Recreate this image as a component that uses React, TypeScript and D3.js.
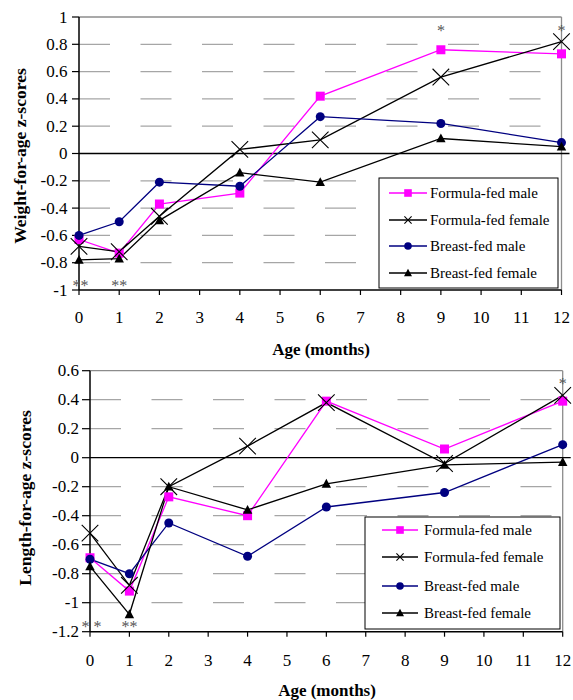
import React from "react";
import * as d3 from "d3";

const ages = [0, 1, 2, 4, 6, 9, 12];
const xTicks = [0, 1, 2, 3, 4, 5, 6, 7, 8, 9, 10, 11, 12];

const seriesNames = ["Formula-fed male", "Formula-fed female", "Breast-fed male", "Breast-fed female"];

// Weight-for-age z-scores
const wFormulaMale = [-0.63, -0.73, -0.37, -0.29, 0.42, 0.76, 0.73];
const wFormulaFemale = [-0.68, -0.72, -0.46, 0.03, 0.1, 0.56, 0.82];
const wBreastMale = [-0.6, -0.5, -0.21, -0.24, 0.27, 0.22, 0.08];
const wBreastFemale = [-0.78, -0.77, -0.49, -0.14, -0.21, 0.11, 0.05];
const wTicks = [-1, -0.8, -0.6, -0.4, -0.2, 0, 0.2, 0.4, 0.6, 0.8, 1];
const wTickLabels = ["-1", "-0.8", "-0.6", "-0.4", "-0.2", "0", "0.2", "0.4", "0.6", "0.8", "1"];
const wStars = [
  { age: 0, y: -0.95, text: "**" },
  { age: 1, y: -0.95, text: "**" },
  { age: 9, y: 0.92, text: "*" },
  { age: 12, y: 0.92, text: "*" },
];

// Length-for-age z-scores
const lFormulaMale = [-0.69, -0.92, -0.27, -0.4, 0.39, 0.06, 0.39];
const lFormulaFemale = [-0.52, -0.88, -0.2, 0.08, 0.38, -0.04, 0.43];
const lBreastMale = [-0.7, -0.8, -0.45, -0.68, -0.34, -0.24, 0.09];
const lBreastFemale = [-0.75, -1.08, -0.2, -0.36, -0.18, -0.05, -0.03];
const lTicks = [-1.2, -1, -0.8, -0.6, -0.4, -0.2, 0, 0.2, 0.4, 0.6];
const lTickLabels = ["-1.2", "-1", "-0.8", "-0.6", "-0.4", "-0.2", "0", "0.2", "0.4", "0.6"];
const lStars = [
  { age: 0, y: -1.15, text: "* *" },
  { age: 1, y: -1.15, text: "**" },
  { age: 12, y: 0.53, text: "*" },
];

const FONT = "Liberation Serif";
const colors = ["#ff00ff", "#000000", "#000080", "#000000"];
const markers = ["square", "x", "circle", "triangle"];

function Marker({ type, x, y, color, s, xk }: { type: string; x: number; y: number; color: string; s: number; xk: number }) {
  if (type === "square") return <rect x={x - s} y={y - s} width={2 * s} height={2 * s} fill={color} />;
  if (type === "circle") return <circle cx={x} cy={y} r={s} fill={color} />;
  if (type === "triangle")
    return <path d={`M${x},${y - s * 1.1} L${x + s * 1.05},${y + s * 0.85} L${x - s * 1.05},${y + s * 0.85} Z`} fill={color} />;
  const k = xk;
  return (
    <path d={`M${x - k},${y - k} L${x + k},${y + k} M${x - k},${y + k} L${x + k},${y - k}`} stroke={color} strokeWidth={1.1} fill="none" />
  );
}

type PanelProps = {
  x0: number; x1: number; yTop: number; yBot: number;
  domain: [number, number];
  ticks: number[]; tickLabels: string[];
  data: number[][];
  stars: { age: number; y: number; text: string }[];
  yTitle: string; yTitleX: number; yTitleY: number;
  tickLabelY: number; titleX: number; titleY: number; labelRight: number; tickLen: number;
  legend: { x0: number; y0: number; x1: number; y1: number; rows: number[]; lineX0: number; lineX1: number; textX: number };
};

function Panel(p: PanelProps) {
  const x = d3.scaleLinear().domain([0, 12]).range([p.x0, p.x1]);
  const y = d3.scaleLinear().domain(p.domain).range([p.yBot, p.yTop]);
  const line = d3.line<number>().x((_, i) => x(ages[i])).y((v) => y(v));
  const gridVals = p.ticks.filter((t) => t !== 0 && t !== p.domain[0] && t !== p.domain[1]);
  const L = p.legend;
  return (
    <g>
      <line x1={p.x0} x2={p.x1} y1={p.yTop} y2={p.yTop} stroke="#8c8c8c" strokeWidth={1.3} />
      <line x1={p.x1} x2={p.x1} y1={p.yTop} y2={p.yBot} stroke="#8c8c8c" strokeWidth={1.3} />
      {gridVals.map((t) => (
        <line key={t} x1={p.x0} x2={p.x1} y1={y(t)} y2={y(t)} stroke="#a6a6a6" strokeWidth={1.3} strokeDasharray="31 30.5" />
      ))}
      <line x1={p.x0} x2={p.x1 + 8} y1={y(0)} y2={y(0)} stroke="#000" strokeWidth={1.3} />
      <line x1={p.x0} x2={p.x0} y1={p.yTop} y2={p.yBot} stroke="#000" strokeWidth={1.5} />
      <line x1={p.x0} x2={p.x1} y1={p.yBot} y2={p.yBot} stroke="#000" strokeWidth={1.5} />
      {p.ticks.map((t, i) => (
        <g key={t}>
          <line x1={p.x0 - p.tickLen} x2={p.x0} y1={y(t)} y2={y(t)} stroke="#000" strokeWidth={1.2} />
          <text x={p.labelRight} y={y(t) + 5.5} textAnchor="end" fontSize={17} fontFamily={FONT}>
            {p.tickLabels[i]}
          </text>
        </g>
      ))}
      {xTicks.map((t) => (
        <g key={t}>
          <line x1={x(t)} x2={x(t)} y1={p.yBot} y2={p.yBot + 5} stroke="#000" strokeWidth={1.2} />
          <text x={x(t)} y={p.tickLabelY} textAnchor="middle" fontSize={17} fontFamily={FONT}>
            {t}
          </text>
        </g>
      ))}
      <text x={p.titleX} y={p.titleY} textAnchor="middle" fontSize={17} fontWeight="bold" fontFamily={FONT}>
        Age (months)
      </text>
      <text
        transform={`translate(${p.yTitleX},${p.yTitleY}) rotate(-90)`}
        textAnchor="middle"
        fontSize={17.5}
        fontWeight="bold"
        fontFamily={FONT}
      >
        {p.yTitle}
      </text>
      {p.data.map((vals, si) => (
        <path key={si} d={line(vals) || ""} fill="none" stroke={colors[si]} strokeWidth={1.3} />
      ))}
      {p.data.map((vals, si) =>
        vals.map((v, i) => (
          <Marker key={si + "-" + i} type={markers[si]} x={x(ages[i])} y={y(v)} color={colors[si]} s={4.5} xk={8.3} />
        ))
      )}
      {p.stars.map((s, i) => (
        <text key={i} x={x(s.age) + (s.age === 0 ? 1.5 : 0)} y={y(s.y) + 8} textAnchor="middle" fontSize={16} fill="#555" fontFamily={FONT}>
          {s.text}
        </text>
      ))}
      <rect x={L.x0} y={L.y0} width={L.x1 - L.x0} height={L.y1 - L.y0} fill="#fff" stroke="#000" strokeWidth={1} />
      {seriesNames.map((n, i) => (
        <g key={n}>
          <line x1={L.lineX0} x2={L.lineX1} y1={L.rows[i]} y2={L.rows[i]} stroke={colors[i]} strokeWidth={1.3} />
          <Marker type={markers[i]} x={(L.lineX0 + L.lineX1) / 2} y={L.rows[i]} color={colors[i]} s={3.8} xk={3.6} />
          <text x={L.textX} y={L.rows[i] + 5} fontSize={15} fontFamily={FONT}>
            {n}
          </text>
        </g>
      ))}
    </g>
  );
}

export default function App() {
  return (
    <svg width={573} height={700} style={{ position: "absolute", left: 0, top: 0, background: "#fff" }}>
      <rect x={0} y={0} width={573} height={700} fill="#fff" />
      <Panel
        x0={79} x1={561.5} yTop={17} yBot={290}
        domain={[-1, 1]}
        ticks={wTicks} tickLabels={wTickLabels}
        data={[wFormulaMale, wFormulaFemale, wBreastMale, wBreastFemale]}
        stars={wStars}
        yTitle="Weight-for-age z-scores" yTitleX={26} yTitleY={156}
        tickLabelY={323} titleX={321} titleY={354.5} labelRight={67.5} tickLen={7}
        legend={{ x0: 379, y0: 178, x1: 558, y1: 288, rows: [193, 220, 246, 273], lineX0: 389, lineX1: 427, textX: 430 }}
      />
      <Panel
        x0={90} x1={562.7} yTop={370.7} yBot={631.7}
        domain={[-1.2, 0.6]}
        ticks={lTicks} tickLabels={lTickLabels}
        data={[lFormulaMale, lFormulaFemale, lBreastMale, lBreastFemale]}
        stars={lStars}
        yTitle="Length-for-age z-scores" yTitleX={31} yTitleY={498}
        tickLabelY={666} titleX={327} titleY={695.5} labelRight={79} tickLen={8}
        legend={{ x0: 365, y0: 517, x1: 560, y1: 629, rows: [530, 557, 586, 613], lineX0: 382, lineX1: 418, textX: 424 }}
      />
    </svg>
  );
}
